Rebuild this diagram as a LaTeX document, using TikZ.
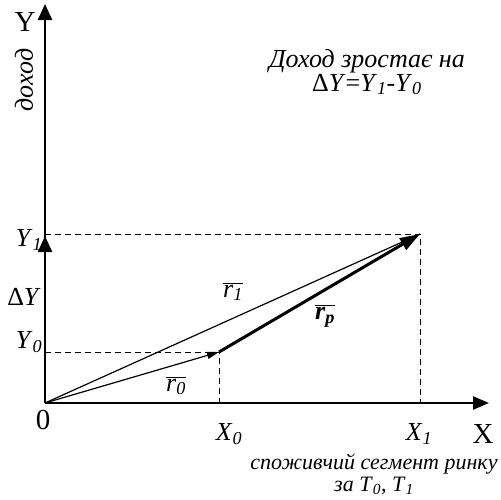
\documentclass[tikz,border=0pt]{standalone}
\usepackage{fontspec}
\setmainfont{Liberation Serif}
\usetikzlibrary{arrows.meta}
\newcommand{\ilab}[2]{\textit{#1}\textsubscript{\textit{#2}}}
\newcommand{\vlab}[1]{$\overline{\hbox{\ilab{r}{#1}}}$}
\begin{document}
\begin{tikzpicture}[x=1pt, y=-1pt, font=\fontsize{26}{24}\selectfont,
	axis/.style={line width=2.4pt},
	guide/.style={line width=0.8pt, dash pattern=on 6pt off 4pt},
	vec/.style={line width=1.2pt},
	big/.style={font=\fontsize{29}{30}\selectfont}]
	\useasboundingbox (0,0) rectangle (501,499);
	% points of the plane
	\coordinate (O) at (45,403);
	\coordinate (Ytop) at (45,4);
	\coordinate (Xend) at (489,403);
	\coordinate (P0) at (219,352);
	\coordinate (P1) at (420,234);
	\coordinate (X0) at (P0 |- O);
	\coordinate (X1) at (P1 |- O);
	\coordinate (Y0) at (P0 -| O);
	\coordinate (Y1) at (P1 -| O);
	% dashed guides
	\draw [guide] (Y1) -- (P1) -- (X1);
	\draw [guide] (Y0) -- (P0) -- (X0);
	% axes
	\draw [axis, -{Triangle[length=16pt,width=14pt]}] (O) -- (Ytop);
	\draw [axis, -{Triangle[length=16pt,width=14pt]}] (O) -- ([yshift=-2pt]Y1);
	\draw [axis, -{Triangle[length=16pt,width=13pt]}] (O) -- (Xend);
	% vectors
	\draw [vec] (O) -- (P1);
	\draw [vec, -{Triangle[length=12pt,width=7pt]}] (O) -- (P0);
	\draw [line width=3pt, -{Triangle[length=20pt,width=13pt]}] (P0) -- (P1);
	% labels
	\node (lY) [big] at (25,22) {Y};
	\node (lX) [big] at (483,434) {X};
	\node (lO) [big] at (43,420) {0};
	\node (ldoh) [rotate=90] at (24,80) {\textit{доход}};
	\node (lY1) at (29,240) {\ilab{Y}{1}};
	\node (lY0) at (29,342) {\ilab{Y}{0}};
	\node (ldY) at (24,297) {Δ\textit{Y}};
	\node (lX0) at (229,434) {\ilab{X}{0}};
	\node (lX1) at (419,434) {\ilab{X}{1}};
	\node (lr1) at (233,292) {\vlab{1}};
	\node (lr0) at (176,386) {\vlab{0}};
	\node (lrp) at (325,316) {$\overline{\hbox{\textbf{\textit{r}}\textsubscript{\textbf{\textit{p}}}}}$};
	\node (lgrow) [align=center] at (367,72) {\textit{Доход зростає на}\\Δ\textit{Y}=\ilab{Y}{1}-\ilab{Y}{0}};
	\node (lseg) [align=center, font=\fontsize{22}{22}\selectfont] at (374,474) {\textit{споживчий сегмент ринку}\\\textit{за} \ilab{T}{0}, \ilab{T}{1}};
\end{tikzpicture}
\end{document}
